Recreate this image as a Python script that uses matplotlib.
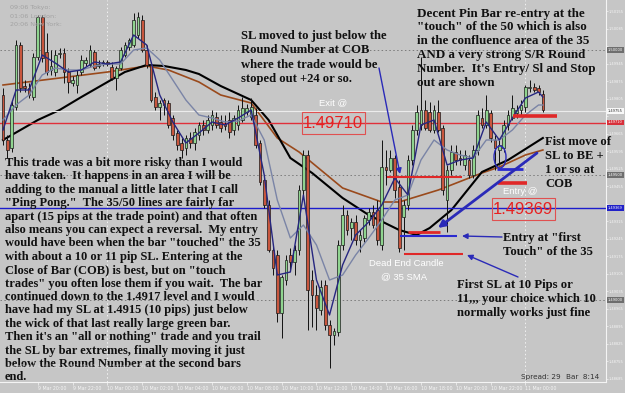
import numpy as np
import matplotlib
matplotlib.use("Agg")
import matplotlib.pyplot as plt
from matplotlib.patches import Rectangle, Ellipse
from matplotlib import font_manager

# ---------------- data (15-minute bars, 9 Mar 18:00 -> 11 Mar 01:00) ----------------
opens = [1.4982, 1.4964, 1.49608, 1.49772, 1.5002, 1.49856, 1.49848, 1.49812, 1.49972, 1.50132,
         1.49992, 1.4992, 1.49912, 1.49984, 1.49988, 1.49912, 1.49868, 1.4986, 1.49912, 1.49948,
         1.4994, 1.49992, 1.49936, 1.49948, 1.49952, 1.49932, 1.49888, 1.49928, 1.4998, 1.50012,
         1.5002, 1.5006, 1.5012, 1.5000, 1.4994, 1.49812, 1.49772, 1.4980, 1.49788, 1.49728,
         1.49668, 1.49628, 1.49608, 1.49648, 1.49628, 1.4966, 1.4970, 1.4968, 1.4970, 1.49732,
         1.49712, 1.49704, 1.4972, 1.4968, 1.4970, 1.4972, 1.49752, 1.49732, 1.4974, 1.49628,
         1.4948, 1.4938, 1.4920, 1.4918, 1.48948, 1.4908, 1.4918, 1.49152, 1.4920, 1.4944,
         1.4958, 1.4908, 1.4902, 1.4896, 1.4906, 1.4890, 1.4886, 1.48872, 1.4922, 1.4934,
         1.49288, 1.49312, 1.4924, 1.49248, 1.4932, 1.49352, 1.4936, 1.4922, 1.49532, 1.4952,
         1.49568, 1.49452, 1.49332, 1.4938, 1.4956, 1.4968, 1.4970, 1.4976, 1.49752, 1.4968,
         1.49752, 1.49688, 1.4940, 1.4952, 1.49592, 1.49568, 1.4954, 1.4956, 1.4950, 1.4960,
         1.49728, 1.4970, 1.49748, 1.4964, 1.4960, 1.49608, 1.4970, 1.49728, 1.49748, 1.4976,
         1.49772, 1.49848, 1.49852, 1.49848, 1.49824]
highs = [1.49848, 1.4966, 1.4980, 1.5004, 1.50032, 1.4988, 1.49868, 1.49988, 1.5014, 1.5014,
         1.50068, 1.5000, 1.5000, 1.50008, 1.50008, 1.49928, 1.49896, 1.4992, 1.4998, 1.49972,
         1.5002, 1.5000, 1.4996, 1.4996, 1.4996, 1.49952, 1.49936, 1.50012, 1.50032, 1.50048,
         1.50148, 1.50152, 1.5014, 1.5002, 1.49952, 1.49832, 1.4980, 1.49808, 1.4980, 1.4974,
         1.4968, 1.49648, 1.4966, 1.49672, 1.49688, 1.49712, 1.4972, 1.4974, 1.4976, 1.49752,
         1.4974, 1.4974, 1.49752, 1.4974, 1.4978, 1.49812, 1.49784, 1.49808, 1.49768, 1.4964,
         1.49488, 1.4940, 1.4922, 1.4920, 1.4910, 1.4918, 1.49208, 1.4922, 1.4946, 1.4960,
         1.4960, 1.4912, 1.4906, 1.4908, 1.4908, 1.4892, 1.48888, 1.4924, 1.4938, 1.4936,
         1.49328, 1.4934, 1.4928, 1.4934, 1.49368, 1.4938, 1.4940, 1.4964, 1.4960, 1.4960,
         1.4958, 1.4948, 1.4940, 1.4958, 1.4970, 1.4978, 1.49972, 1.4980, 1.49792, 1.4978,
         1.4980, 1.4970, 1.4954, 1.4962, 1.4962, 1.4960, 1.4960, 1.4958, 1.4962, 1.4976,
         1.49768, 1.4982, 1.4976, 1.4966, 1.4964, 1.4972, 1.4976, 1.4982, 1.4978, 1.4980,
         1.4986, 1.4988, 1.49868, 1.4986, 1.4984]
lows = [1.4962, 1.49568, 1.49592, 1.4976, 1.49832, 1.49832, 1.49808, 1.4980, 1.4996, 1.49952,
        1.4990, 1.4990, 1.49896, 1.49968, 1.49868, 1.49828, 1.49856, 1.49828, 1.4990, 1.49936,
        1.49932, 1.4992, 1.49928, 1.49936, 1.49936, 1.4988, 1.4984, 1.4992, 1.49972, 1.5000,
        1.50012, 1.50048, 1.49992, 1.49928, 1.49792, 1.4976, 1.4972, 1.4974, 1.49688, 1.4964,
        1.4960, 1.49568, 1.4958, 1.49608, 1.4960, 1.4964, 1.4966, 1.49668, 1.4968, 1.49688,
        1.49672, 1.4968, 1.49648, 1.4966, 1.4968, 1.49712, 1.4974, 1.4972, 1.49608, 1.4946,
        1.49368, 1.49192, 1.4910, 1.48912, 1.48848, 1.4906, 1.4912, 1.4910, 1.4918, 1.4942,
        1.4888, 1.48892, 1.4888, 1.4894, 1.4888, 1.48728, 1.4882, 1.48856, 1.4920, 1.4926,
        1.4924, 1.4922, 1.49192, 1.49232, 1.4930, 1.49288, 1.4922, 1.4920, 1.4946, 1.49512,
        1.49408, 1.49192, 1.4920, 1.4936, 1.4954, 1.4966, 1.4968, 1.4968, 1.49672, 1.49668,
        1.49672, 1.4942, 1.49272, 1.4950, 1.4954, 1.4954, 1.4952, 1.49488, 1.49488, 1.4958,
        1.49688, 1.49688, 1.49632, 1.4952, 1.4954, 1.49592, 1.4968, 1.4972, 1.49728, 1.4974,
        1.49752, 1.49832, 1.49832, 1.4982, 1.49752]
closes = [1.4964, 1.4960, 1.4978, 1.5002, 1.49848, 1.49848, 1.4982, 1.49972, 1.50132, 1.49968,
          1.49912, 1.49936, 1.4998, 1.49988, 1.49912, 1.49872, 1.4988, 1.4990, 1.4996, 1.4996,
          1.5000, 1.49928, 1.49944, 1.49952, 1.49944, 1.49888, 1.49928, 1.5000, 1.5002, 1.5004,
          1.5012, 1.50132, 1.5000, 1.4994, 1.4980, 1.49772, 1.49788, 1.4978, 1.4970, 1.4966,
          1.4962, 1.4960, 1.49648, 1.49628, 1.49672, 1.4970, 1.4968, 1.4972, 1.4974, 1.4970,
          1.49688, 1.49696, 1.49672, 1.49728, 1.4976, 1.49768, 1.49768, 1.49772, 1.4962, 1.49472,
          1.4938, 1.4920, 1.49128, 1.48948, 1.49092, 1.4916, 1.49152, 1.4920, 1.4944, 1.4958,
          1.4904, 1.4902, 1.48968, 1.49052, 1.4890, 1.4886, 1.48876, 1.4922, 1.4934, 1.4928,
          1.49312, 1.4924, 1.4926, 1.49328, 1.49352, 1.4930, 1.4924, 1.49532, 1.4952, 1.49568,
          1.4944, 1.49208, 1.4938, 1.4956, 1.4968, 1.49752, 1.4976, 1.49688, 1.4968, 1.4976,
          1.4968, 1.4944, 1.4952, 1.49592, 1.4956, 1.4956, 1.4958, 1.4950, 1.4960, 1.4974,
          1.4970, 1.4976, 1.49648, 1.49608, 1.4962, 1.4970, 1.4974, 1.49768, 1.4976, 1.4978,
          1.49852, 1.49852, 1.4984, 1.49832, 1.4976]

# moving averages (bar index, price)
sma35_idx = [0, 4, 8, 13, 18, 24, 28, 33, 37, 42, 45, 50, 57, 61, 63, 66, 71, 78, 84, 91, 95, 98, 103, 110, 116, 124]
sma35 = [1.4964, 1.4968, 1.4972, 1.4976, 1.49812, 1.49872, 1.49912, 1.4994, 1.49936, 1.4992, 1.49904, 1.49856,
         1.4980, 1.4972, 1.4966, 1.49568, 1.49508, 1.49408, 1.4934, 1.4928, 1.4926, 1.49288, 1.4936, 1.49512,
         1.4956, 1.49648]
sma50_idx = [0, 13, 24, 33, 38, 45, 50, 57, 63, 68, 78, 87, 91, 100, 110, 114, 120, 124]
sma50 = [1.4986, 1.49888, 1.49912, 1.49936, 1.4992, 1.49872, 1.4982, 1.49788, 1.49648, 1.49592, 1.49448,
         1.49392, 1.49392, 1.4944, 1.49508, 1.49532, 1.4958, 1.4960]
fast_idx = list(range(0, 124, 3)) + [124]
ema_fast = [1.4968, 1.4984, 1.4984, 1.4998, 1.49948, 1.49912, 1.4992, 1.49952, 1.49944, 1.49952, 1.5006,
            1.5002, 1.4982, 1.49712, 1.49628, 1.49668, 1.49712, 1.4970, 1.49728, 1.4976, 1.4950, 1.4910,
            1.49112, 1.4942, 1.4908, 1.4894, 1.4914, 1.4926, 1.49312, 1.4938, 1.49488, 1.4942, 1.4970,
            1.4972, 1.4954, 1.4956, 1.49568, 1.49712, 1.4964, 1.49728, 1.49808, 1.49832, 1.49812]
ema_slow = [1.4972, 1.4978, 1.4982, 1.4990, 1.49928, 1.4992, 1.4992, 1.49936, 1.49944, 1.49944, 1.5000,
            1.50008, 1.4996, 1.4988, 1.4980, 1.4974, 1.49728, 1.49712, 1.49716, 1.4974, 1.4964, 1.4940,
            1.49248, 1.4930, 1.4922, 1.4908, 1.4910, 1.4918, 1.49248, 1.4932, 1.4940, 1.4942, 1.4956,
            1.4964, 1.4960, 1.4958, 1.49568, 1.4964, 1.4964, 1.4968, 1.4974, 1.4978, 1.4978]

time_idx = [8, 16, 24, 32, 40, 48, 56, 64, 72, 80, 88, 96, 104, 112, 120]
time_labels = ["9 Mar 20:00", "9 Mar 22:00", "10 Mar 00:00", "10 Mar 02:00", "10 Mar 04:00",
               "10 Mar 06:00", "10 Mar 08:00", "10 Mar 10:00", "10 Mar 12:00", "10 Mar 14:00",
               "10 Mar 16:00", "10 Mar 18:00", "10 Mar 20:00", "10 Mar 22:00", "11 Mar 00:00"]

exit_price = 1.49710
entry_price = 1.49369
bid_price = 1.49755
round_levels = [1.5000, 1.4950, 1.4900]

# ---------------- figure ----------------
W, H = 625, 393
BG = '#c6c6c6'
fig = plt.figure(figsize=(W / 100, H / 100), dpi=100)
fig.patch.set_facecolor(BG)

ax = fig.add_axes([0, 11 / H, 606 / W, 382 / H])
ax.set_facecolor(BG)
YTOP, YBOT = 1.5020, 1.5020 - 0.00004 * 382
ax.set_xlim(-0.69, 138.5)
ax.set_ylim(YBOT, YTOP)

o = np.array(opens); c = np.array(closes); h = np.array(highs); l = np.array(lows)
x = np.arange(len(o))
up = c >= o
for p in round_levels:
    ax.axhline(p, color='#7a7a7a', lw=0.7, ls=(0, (1.5, 2.5)), zorder=1)
for d in (24, 120):
    ax.axvline(d, color='#f2f2f2', lw=0.7, ls=(0, (1.5, 2.5)), zorder=1)

ax.plot(sma50_idx, sma50, color='#9a4a1c', lw=1.2, zorder=2)
ax.plot(sma35_idx, sma35, color='#000000', lw=1.5, zorder=2)
ax.plot(fast_idx, ema_slow, color='#7a84a6', lw=1.0, zorder=4)
ax.plot(fast_idx, ema_fast, color='#262680', lw=1.0, zorder=4)

ax.vlines(x, l, h, color='#111111', lw=0.7, zorder=3)
body_b = np.minimum(o, c)
body_h = np.maximum(np.abs(c - o), 0.00002)
ax.bar(x, body_h, bottom=body_b, width=0.62,
       color=np.where(up, '#8fd48f', '#c8563e'), edgecolor='#1a1a1a', linewidth=0.5, zorder=3)

ax.axhline(bid_price, color='#ececec', lw=0.8, zorder=2)
ax.axhline(exit_price, color='#e0303a', lw=1.0, zorder=2)
ax.axhline(entry_price, color='#1c1ccc', lw=1.0, zorder=2)

marks = [((88.2, 105.4), 1.49492, '#e02828', 1.5),
         ((113.7, 120.3), 1.49470, '#e02828', 2.6),
         ((113.5, 119.4), 1.49524, '#2a2ad0', 2.0),
         ((93.0, 100.4), 1.49272, '#e02828', 2.0),
         ((91.2, 104.3), 1.49256, '#2a2ad0', 1.5),
         ((92.1, 105.6), 1.49184, '#e02828', 1.5),
         ((117.1, 127.2), 1.49736, '#e02828', 2.6)]
for (a, b), p, col, lw in marks:
    ax.plot([a, b], [p, p], color=col, lw=lw, solid_capstyle='butt', zorder=5)

for s in ('top', 'left'):
    ax.spines[s].set_visible(False)
for s in ('right', 'bottom'):
    ax.spines[s].set_color('#f4f4f4'); ax.spines[s].set_linewidth(0.8)
ax.yaxis.tick_right()
yt = 1.48685 + 0.0007 * np.arange(22)
special = round_levels + [bid_price, exit_price, entry_price]
ax.set_yticks(yt)
ax.set_yticklabels(["" if min(abs(v - s) for s in special) < 0.00022 else f"{v:.5f}" for v in yt],
                   fontsize=2.6, color='#f4f4f4')
ax.tick_params(axis='y', length=1.5, width=0.5, color='#f4f4f4', pad=0.6)
ax.set_xticks(time_idx)
ax.set_xticklabels(time_labels, fontsize=3.4, color='#f4f4f4', ha='left')
ax.tick_params(axis='x', length=2, width=0.5, color='#f4f4f4', pad=1)

# ---------------- overlay in pixel coordinates ----------------
ov = fig.add_axes([0, 0, 1, 1])
ov.set_xlim(0, W); ov.set_ylim(H, 0); ov.axis('off'); ov.patch.set_alpha(0)

def py(p):
    return (YTOP - p) / 0.00004

def pricebox(p, txt, fc, tc):
    ov.text(608, py(p), txt, fontsize=2.6, color=tc, va='center', ha='left',
            bbox=dict(boxstyle='square,pad=0.25', fc=fc, ec='none'))

for p in round_levels:
    pricebox(p, f"{p:.5f}", '#6e6e6e', '#ffffff')
pricebox(bid_price, f"{bid_price:.5f}", '#f8f8f8', '#333333')
pricebox(exit_price, f"{exit_price:.5f}", '#d8303a', '#ffffff')
pricebox(entry_price, f"{entry_price:.5f}", '#2020c8', '#ffffff')

serif = dict(family='Liberation Serif', weight='bold', size=9.1, color='#111111', va='center', ha='left')

def block(x0, y0, dy, lines, **kw):
    st = dict(serif); st.update(kw)
    for k, s in enumerate(lines):
        ov.text(x0, y0 + k * dy, s, **st)

block(5, 163, 13.4, [
    "This trade was a bit more risky than I would",
    "have taken.  It happens in an area I will be",
    "adding to the manual a little later that I call",
    "\"Ping Pong.\"  The 35/50 lines are fairly far",
    "apart (15 pips at the trade point) and that often",
    "also means you can expect a reversal.  My entry",
    "would have been when the bar \"touched\" the 35",
    "with about a 10 or 11 pip SL. Entering at the",
    "Close of Bar (COB) is best, but on \"touch",
    "trades\" you often lose them if you wait.  The bar",
    "continued down to the 1.4917 level and I would",
    "have had my SL at 1.4915 (10 pips) just below",
    "the wick of that last really large green bar.",
    "Then it's an \"all or nothing\" trade and you trail",
    "the SL by bar extremes, finally moving it just",
    "below the Round Number at the second bars",
    "end."], size=9.0)
block(241, 36, 14.3, ["SL moved to just below the", "Round Number at COB",
                      "where the trade would be", "stoped out +24 or so."])
block(417, 13.5, 13.8, ["Decent Pin Bar re-entry at the", "\"touch\" of the 50 which is also",
                        "in the confluence area of the 35", "AND a very strong S/R Round",
                        "Number.  It's Entry/ Sl and Stop", "out are shown"], size=9.4)
block(545, 142, 14, ["Fist move of", "SL to BE +", "1 or so at", "COB"])
block(503, 238, 14, ["Entry at \"first", "Touch\" of the 35"])
block(457, 285, 14, ["First SL at 10 Pips or", "11,,, your choice which 10",
                     "normally works just fine"], size=9.2)

sans_w = dict(family='Liberation Sans', size=6.8, color='#ffffff', ha='center', va='center')
ov.text(333, 103, "Exit @", **sans_w)
ov.text(520, 191, "Entry @", **sans_w)
ov.text(406, 264, "Dead End Candle", **sans_w)
ov.text(404, 277, "@ 35 SMA", **sans_w)

try:
    font_manager.findfont('Liberation Sans Narrow', fallback_to_default=False)
    big = dict(family='Liberation Sans Narrow', size=14, color='#e82020', ha='center', va='center')
except Exception:
    big = dict(family='Liberation Sans', size=12, color='#e82020', ha='center', va='center')
ov.text(333, 123, f"{exit_price:.5f}", **big)
ov.add_patch(Rectangle((302, 112), 63, 22, fill=False, ec='#e05050', lw=0.8))
ov.text(523, 209, f"{entry_price:.5f}", **big)
ov.add_patch(Rectangle((492, 198), 63, 22, fill=False, ec='#e05050', lw=0.8))

arrow_c = '#2a2ab8'
def arrow(x0, y0, x1, y1, lw=1.0, ms=8):
    ov.annotate('', xy=(x1, y1), xytext=(x0, y0),
                arrowprops=dict(arrowstyle='-|>', color=arrow_c, lw=lw, mutation_scale=ms,
                                shrinkA=0, shrinkB=0))
arrow(379, 68, 400, 174)
arrow(537, 153, 438, 228, lw=2.0, ms=10)
arrow(502, 237, 462, 236)
arrow(518, 277, 467, 255)
ov.add_patch(Ellipse((500, 157), 12, 22, fill=False, ec=arrow_c, lw=1.0))

small_g = dict(family='DejaVu Sans', size=4.6, color='#a2a2a2', ha='left', va='center')
ov.text(10, 8, "09:06 Tokyo:", **small_g)
ov.text(10, 16.5, "01:06 London:", **small_g)
ov.text(10, 25, "20:06 New York:", **small_g)
ov.text(8, 366, "MetaTrader 4, \u00a9 2001-2007 MetaQuotes Software Corp.",
        family='DejaVu Sans', size=3.6, color='#e8e8e8', ha='left', va='center', alpha=0.6)
ov.text(521, 377, "Spread: 29", family='DejaVu Sans', size=5.2, color='#333333', ha='left', va='center')
ov.text(566, 377, "Bar  8:14", family='DejaVu Sans', size=5.2, color='#333333', ha='left', va='center')

fig.savefig("out.png", dpi=100, facecolor=fig.get_facecolor())
